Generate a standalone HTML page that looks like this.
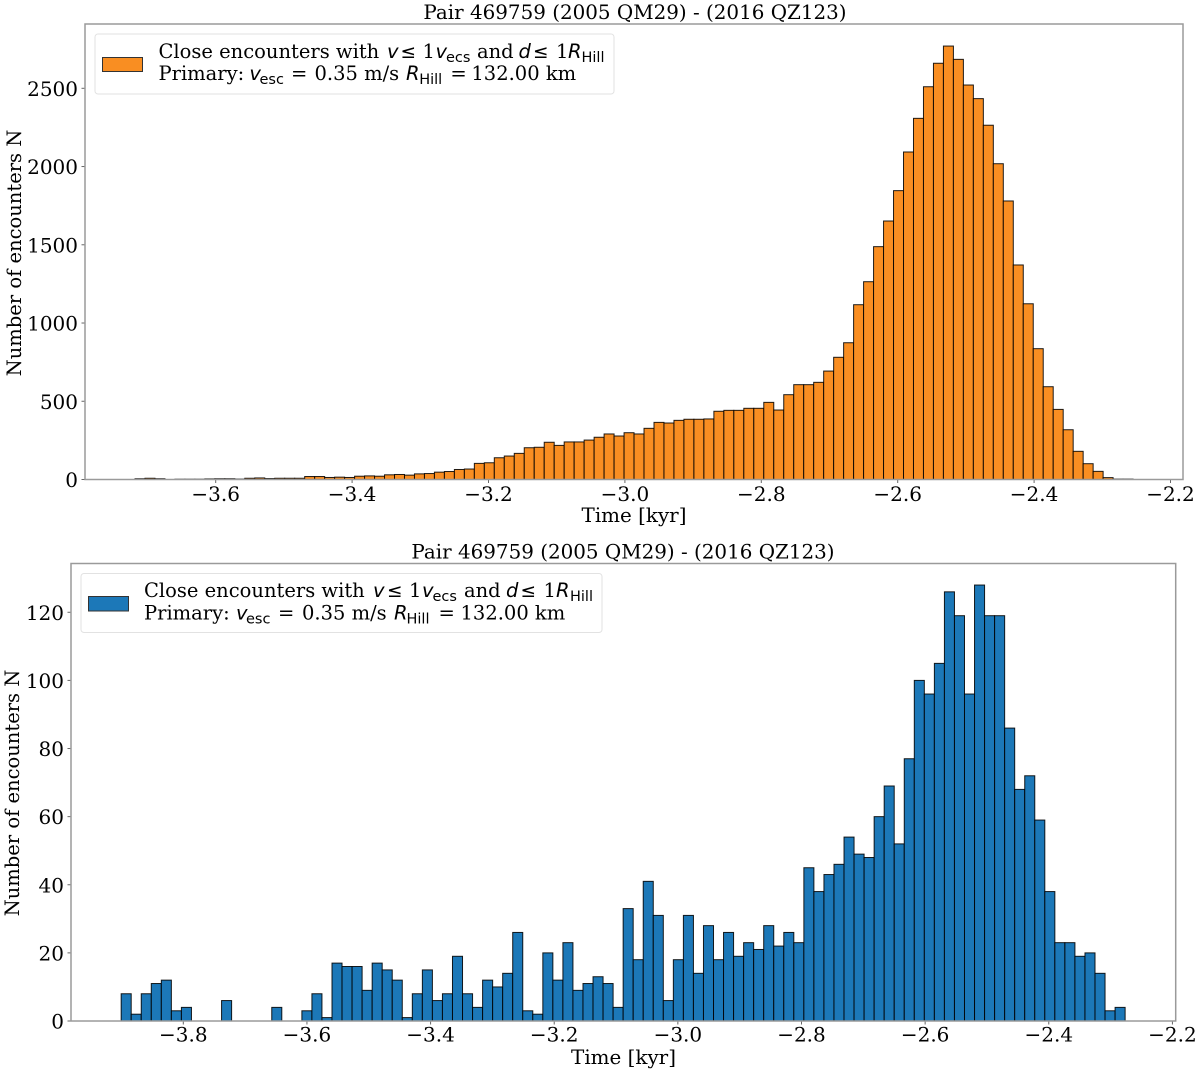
<!DOCTYPE html>
<html lang="en">
<head>
<meta charset="utf-8">
<title>Close encounters histograms</title>
<style>
html,body{margin:0;padding:0;background:#fff;width:1200px;height:1074px;overflow:hidden}
svg{display:block;filter:blur(0.3px)}
text{font-family:"DejaVu Serif","Liberation Serif",serif;font-size:19.5px;fill:#000}
.t{font-size:19.9px}
.k{font-size:20px}
.m{font-family:"DejaVu Sans","Liberation Sans",sans-serif;font-style:italic;font-size:19.5px}
.s{font-family:"DejaVu Sans","Liberation Sans",sans-serif;font-size:14.5px}
.r{font-family:"DejaVu Sans","Liberation Sans",sans-serif;font-size:18.5px}
.spine{fill:none;stroke:#9a9a9a;stroke-width:1.5}
.legend-box{fill:#fff;stroke:#e2e2e2;stroke-width:1}
</style>
</head>
<body>
<svg id="figure" xmlns="http://www.w3.org/2000/svg" width="1200" height="1074" viewBox="0 0 1200 1074">
  <g id="top-panel">
    <g id="top-bars"></g>
    <g id="top-ticks"></g>
    <rect class="spine" x="85" y="24" width="1098" height="455.5"/>
    <text class="t" x="635" y="19" text-anchor="middle">Pair 469759 (2005 QM29) - (2016 QZ123)</text>
    <text class="t" x="634" y="522" text-anchor="middle">Time [kyr]</text>
    <text text-anchor="middle" transform="translate(21 253) rotate(-90)">Number of encounters N</text>
    <g>
      <rect class="legend-box" x="95" y="34" width="519" height="60" rx="3"/>
      <rect x="102.5" y="57.5" width="40" height="14" fill="#f98e22" stroke="#333" stroke-width="1"/>
      <text x="158.5" y="58">Close encounters with<tspan class="m" x="387" y="58">v</tspan><tspan class="r" x="400.5" y="58">≤</tspan><tspan x="422.5" y="58">1</tspan><tspan class="m" x="435.5" y="58">v</tspan><tspan class="s" x="446" y="62">ecs</tspan><tspan x="477" y="58">and</tspan><tspan class="m" x="518.5" y="58">d</tspan><tspan class="r" x="533" y="58">≤</tspan><tspan x="556" y="58">1</tspan><tspan class="m" x="568" y="58">R</tspan><tspan class="s" x="581.5" y="62">Hill</tspan></text>
      <text x="158.5" y="80">Primary:<tspan class="m" x="249.4" y="80">v</tspan><tspan class="s" x="259.5" y="84">esc</tspan><tspan x="291" y="80">=</tspan><tspan x="314.5" y="80">0.35 m/s</tspan><tspan class="m" x="406" y="80">R</tspan><tspan class="s" x="419.2" y="84">Hill</tspan><tspan x="450.4" y="80">=</tspan><tspan x="471.4" y="80">132.00 km</tspan></text>
    </g>
  </g>
  <g id="bottom-panel">
    <g id="bottom-bars"></g>
    <g id="bottom-ticks"></g>
    <rect class="spine" x="71" y="563.5" width="1104.7" height="457.5"/>
    <text class="t" x="623" y="558.5" text-anchor="middle">Pair 469759 (2005 QM29) - (2016 QZ123)</text>
    <text class="t" x="623.5" y="1064" text-anchor="middle">Time [kyr]</text>
    <text text-anchor="middle" transform="translate(19 793) rotate(-90)">Number of encounters N</text>
    <g>
      <rect class="legend-box" x="81" y="573.5" width="521" height="59" rx="3"/>
      <rect x="88.5" y="596.5" width="40" height="14.5" fill="#1c78b8" stroke="#333" stroke-width="1"/>
      <text x="144" y="597">Close encounters with<tspan class="m" x="373" y="597">v</tspan><tspan class="r" x="387" y="597">≤</tspan><tspan x="409" y="597">1</tspan><tspan class="m" x="422" y="597">v</tspan><tspan class="s" x="432.5" y="601">ecs</tspan><tspan x="464" y="597">and</tspan><tspan class="m" x="506" y="597">d</tspan><tspan class="r" x="520.5" y="597">≤</tspan><tspan x="543.5" y="597">1</tspan><tspan class="m" x="556" y="597">R</tspan><tspan class="s" x="570" y="601">Hill</tspan></text>
      <text x="144" y="619.5">Primary:<tspan class="m" x="236" y="619.5">v</tspan><tspan class="s" x="246" y="623.5">esc</tspan><tspan x="278" y="619.5">=</tspan><tspan x="302" y="619.5">0.35 m/s</tspan><tspan class="m" x="394" y="619.5">R</tspan><tspan class="s" x="406.5" y="623.5">Hill</tspan><tspan x="438.5" y="619.5">=</tspan><tspan x="460.5" y="619.5">132.00 km</tspan></text>
    </g>
  </g>
</svg>
<script>
const topCounts = [5,8,5,0,2,2,2,4,5,5,3,8,10,6,8,8,8,19,19,13,15,13,21,23,21,30,32,28,36,38,47,51,64,67,103,107,139,150,167,203,206,238,218,240,240,252,270,291,278,299,291,327,365,361,378,385,385,387,436,442,442,455,455,493,444,542,606,606,621,693,781,874,1117,1264,1488,1652,1846,2093,2308,2510,2660,2770,2685,2521,2434,2264,2018,1780,1371,1123,836,593,448,318,180,101,52,12,3,3];
const bottomCounts = [8,2,8,11,12,3,4,0,0,0,6,0,0,0,0,4,0,0,3,8,1,17,16,16,9,17,15,12,1,8,15,6,8,19,8,4,12,10,14,26,3,2,20,12,23,9,11,13,11,4,33,18,41,31,6,18,31,14,28,18,26,19,23,21,28,22,26,23,45,38,43,46,54,49,48,60,69,52,77,100,96,105,126,119,96,128,119,119,86,68,72,59,38,23,23,19,20,14,3,4];
const topBinStart = -3.7183;
const topBinWidth = 0.014634;
const bottomBinStart = -3.9005;
const bottomBinWidth = 0.01624;
const topXTicks = [-3.6,-3.4,-3.2,-3.0,-2.8,-2.6,-2.4,-2.2];
const topYTicks = [0,500,1000,1500,2000,2500];
const bottomXTicks = [-3.8,-3.6,-3.4,-3.2,-3.0,-2.8,-2.6,-2.4,-2.2];
const bottomYTicks = [0,20,40,60,80,100,120];

const SVGNS = 'http://www.w3.org/2000/svg';
const topX = v => 215.7 + (v + 3.6) * 682;
const topY = v => 479.5 - v * 0.15648;
const bottomX = v => 183.3 + (v + 3.8) * 618.2;
const bottomY = v => 1021 - v * 3.406;

function drawBars(parentId, counts, start, width, xf, yf, fill, barName) {
  const parent = document.getElementById(parentId);
  counts.forEach((c, i) => {
    const x0 = xf(start + i * width);
    const x1 = xf(start + (i + 1) * width);
    const y1 = yf(c);
    const r = document.createElementNS(SVGNS, 'rect');
    r.setAttribute('x', x0.toFixed(2));
    r.setAttribute('y', y1.toFixed(2));
    r.setAttribute('width', (x1 - x0).toFixed(2));
    r.setAttribute('height', (yf(0) - y1).toFixed(2));
    r.setAttribute('fill', fill);
    r.setAttribute('stroke', '#000');
    r.setAttribute('stroke-opacity', '0.88');
    r.setAttribute('stroke-width', '1');
    
    
    parent.appendChild(r);
  });
}

function drawTicks(parentId, xTicks, yTicks, xf, yf, axisLeft, axisBottom, xLabelY, yLabelX) {
  const parent = document.getElementById(parentId);
  xTicks.forEach(t => {
    const px = xf(t);
    const l = document.createElementNS(SVGNS, 'line');
    l.setAttribute('x1', px.toFixed(2));
    l.setAttribute('x2', px.toFixed(2));
    l.setAttribute('y1', axisBottom);
    l.setAttribute('y2', axisBottom + 3.5);
    l.setAttribute('stroke', '#666');
    l.setAttribute('stroke-width', '1');
    
    
    parent.appendChild(l);
    const s = document.createElementNS(SVGNS, 'text');
    s.setAttribute('class', 'k');
    s.setAttribute('x', px.toFixed(2));
    s.setAttribute('y', xLabelY);
    s.setAttribute('text-anchor', 'middle');
    
    
    s.textContent = '\u2212' + Math.abs(t).toFixed(1);
    parent.appendChild(s);
  });
  yTicks.forEach(t => {
    const py = yf(t);
    const l = document.createElementNS(SVGNS, 'line');
    l.setAttribute('x1', axisLeft - 3.5);
    l.setAttribute('x2', axisLeft);
    l.setAttribute('y1', py.toFixed(2));
    l.setAttribute('y2', py.toFixed(2));
    l.setAttribute('stroke', '#666');
    l.setAttribute('stroke-width', '1');
    
    
    parent.appendChild(l);
    const s = document.createElementNS(SVGNS, 'text');
    s.setAttribute('class', 'k');
    s.setAttribute('x', yLabelX);
    s.setAttribute('y', (py + 7.6).toFixed(2));
    s.setAttribute('text-anchor', 'end');
    
    
    s.textContent = String(t);
    parent.appendChild(s);
  });
}

drawBars('top-bars', topCounts, topBinStart, topBinWidth, topX, topY, '#f98e22', 'orange-histogram-bar');
drawBars('bottom-bars', bottomCounts, bottomBinStart, bottomBinWidth, bottomX, bottomY, '#1c78b8', 'blue-histogram-bar');
drawTicks('top-ticks', topXTicks, topYTicks, topX, topY, 85, 479.5, 501, 78);
drawTicks('bottom-ticks', bottomXTicks, bottomYTicks, bottomX, bottomY, 71, 1021, 1041.5, 64);
</script>
</body>
</html>
